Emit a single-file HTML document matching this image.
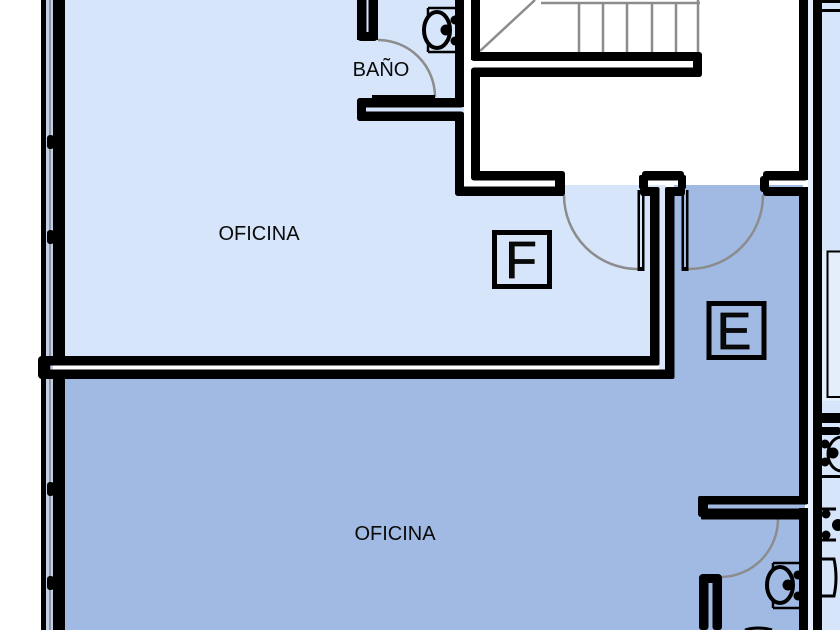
<!DOCTYPE html>
<html><head><meta charset="utf-8"><style>
html,body{margin:0;padding:0;background:#fff}
svg{display:block}
text{font-family:"Liberation Sans",sans-serif;fill:#0a0a0a}
</style></head><body>
<svg width="840" height="630" viewBox="0 0 840 630" xmlns="http://www.w3.org/2000/svg">
<rect width="840" height="630" fill="#fff"/>
<!-- fills -->
<path d="M60 0H358V40H378V0H464V121H455V195H640V185H659V365H60Z" fill="#d6e5fa"/>
<rect x="360" y="0" width="100" height="110" fill="#d6e5fa"/>
<rect x="563" y="185" width="90" height="175" fill="#d6e5fa"/>
<path d="M674 185H803V630H46V370H674Z" fill="#a0bae3"/>
<rect x="60" y="379" width="745" height="251" fill="#a0bae3"/>
<rect x="659" y="185" width="7" height="185" fill="#dbe7f8"/>
<rect x="46" y="0" width="7" height="630" fill="#c3cfe2"/>
<rect x="49" y="0" width="2" height="630" fill="#8f97a5"/>
<rect x="808" y="0" width="5" height="630" fill="#e6effb"/>
<rect x="822" y="0" width="18" height="630" fill="#d6e5fa"/>
<rect x="822" y="251" width="18" height="150" fill="#e4eefb"/>
<!-- door arcs and stairs -->
<g fill="none" stroke="#8c8c8c" stroke-width="2.5">
<path d="M378 40A57 57 0 0 1 435 97"/>
<path d="M564 195A74 74 0 0 0 638 269"/>
<path d="M763 195A74 74 0 0 1 688 269"/>
<path d="M778 519A58 58 0 0 1 722 577"/>
<path d="M480 51L535 0M541 3H700M579 3V52M603 3V52M627 3V52M652 3V52M676 3V52M698 0V52"/>
</g>
<!-- walls -->
<g fill="#000">
<rect x="41" y="0" width="5" height="630"/>
<rect x="53" y="0" width="12" height="357"/>
<rect x="53" y="378" width="12" height="252"/>
<rect x="47" y="135" width="7" height="14" rx="3"/>
<rect x="47" y="230" width="7" height="14" rx="3"/>
<rect x="47" y="482" width="7" height="14" rx="3"/>
<rect x="47" y="576" width="7" height="14" rx="3"/>
<rect x="38" y="356" width="12" height="23" rx="4"/>
<rect x="40" y="356" width="619" height="9.500" rx="2"/>
<rect x="40" y="369.500" width="634" height="9.500" rx="2"/>
<!-- bath -->
<rect x="357" y="0" width="9.500" height="40"/>
<rect x="368.500" y="0" width="9.500" height="40"/>
<rect x="357" y="32" width="21" height="9" rx="4"/>
<rect x="455" y="0" width="9" height="107"/>
<rect x="357" y="98" width="107" height="9.500" rx="3"/>
<rect x="357" y="111.500" width="107" height="9.500" rx="3"/>
<rect x="357" y="98" width="9" height="23" rx="3"/>
<rect x="455" y="112" width="9" height="83" rx="2"/>
<rect x="372" y="95" width="63" height="3"/>
<!-- stair room -->
<rect x="471" y="0" width="9" height="60"/>
<rect x="471" y="52" width="231" height="9" rx="3"/>
<rect x="471" y="67.500" width="231" height="9.500" rx="3"/>
<rect x="693" y="52" width="9" height="25" rx="3"/>
<rect x="471" y="68" width="9" height="112" rx="3"/>
<rect x="471" y="171" width="94" height="9.500" rx="3"/>
<rect x="455" y="186.500" width="110" height="9.500" rx="3"/>
<rect x="555" y="171" width="10" height="25" rx="3"/>
<!-- pillar -->
<rect x="642" y="171" width="42" height="9.500" rx="3"/>
<rect x="639" y="175" width="9" height="14" rx="2"/>
<rect x="678" y="175" width="8" height="14" rx="2"/>
<rect x="640" y="187" width="19" height="9" rx="3"/>
<rect x="665" y="187" width="20" height="9" rx="3"/>
<rect x="650" y="187" width="9.500" height="178.500" rx="2"/>
<rect x="665" y="187" width="9.500" height="192" rx="2"/>
<!-- right -->
<rect x="763" y="171" width="45" height="9.500" rx="3"/>
<rect x="760" y="176" width="9" height="16" rx="3"/>
<rect x="763" y="187" width="45" height="9" rx="3"/>
<rect x="799" y="0" width="9" height="180"/>
<rect x="799" y="187" width="9" height="317"/>
<rect x="813" y="0" width="9" height="630"/>
<rect x="698" y="496" width="110" height="8.500" rx="2"/>
<rect x="701" y="508.500" width="107" height="11" rx="1"/>
<rect x="698" y="496" width="10" height="21" rx="3"/>
<rect x="799" y="508" width="9" height="122"/>
<rect x="699" y="575" width="9.500" height="55" rx="3"/>
<rect x="712.500" y="575" width="9.500" height="55" rx="3"/>
<rect x="699" y="574" width="23" height="9" rx="4"/>
<!-- far right -->
<rect x="813" y="413" width="27" height="10"/>
<rect x="813" y="427" width="27" height="8" rx="2"/>
<rect x="822" y="0" width="18" height="3"/>
<rect x="822" y="9" width="18" height="3"/>
<rect x="822" y="475" width="18" height="3"/>
<rect x="637.500" y="190" width="2.500" height="81"/>
<rect x="642" y="190" width="2.500" height="81"/>
<rect x="637.500" y="267" width="7" height="4"/>
<rect x="681.500" y="190" width="2.500" height="81"/>
<rect x="686" y="190" width="2.500" height="81"/>
<rect x="681.500" y="267" width="7" height="4"/>
</g>
<!-- thin outlines on right -->
<path d="M840 251.500H827.500V397H840" fill="none" stroke="#000" stroke-width="2"/>
<!-- sinks -->
<g fill="none" stroke="#000">
<path d="M428 8H455M428 52H455M428 8V16M428 44V52" stroke-width="2.500"/>
<ellipse cx="437" cy="30" rx="13" ry="18" stroke-width="4"/>
<path d="M773 563H799M773 608H799M773 563V570M773 600V608" stroke-width="2.500"/>
<ellipse cx="780" cy="585" rx="13" ry="18" stroke-width="4"/>
<ellipse cx="842" cy="454" rx="14" ry="17" stroke-width="3"/>
<path d="M822 509H836M822 540H836" stroke-width="3"/>
<path d="M822 559H834Q838 578 834 596H822" stroke-width="3"/>
<path d="M745 630Q758 626 772 630" stroke-width="3"/>
</g>
<g fill="#000">
<circle cx="446" cy="30" r="5.500"/><circle cx="455" cy="20" r="4.500"/><circle cx="455" cy="41" r="4.500"/>
<circle cx="788" cy="585" r="5.500"/><circle cx="798" cy="575" r="4.500"/><circle cx="798" cy="596" r="4.500"/>
<circle cx="833" cy="453" r="5.500"/><circle cx="825" cy="444" r="4.500"/><circle cx="825" cy="462" r="4.500"/>
<circle cx="838" cy="525" r="6"/><circle cx="826" cy="514" r="4.500"/><circle cx="826" cy="535" r="4.500"/>
</g>
<!-- labels -->
<rect x="494.500" y="232.500" width="55" height="54" fill="none" stroke="#000" stroke-width="5"/>
<rect x="709" y="303.500" width="55" height="54" fill="none" stroke="#000" stroke-width="5"/>
<text x="521" y="278" font-size="52" text-anchor="middle" stroke="#000" stroke-width="0.8">F</text>
<text x="734" y="349" font-size="52" text-anchor="middle" stroke="#000" stroke-width="0.8">E</text>
<text x="259" y="240" font-size="20" text-anchor="middle">OFICINA</text>
<text x="395" y="540" font-size="20" text-anchor="middle">OFICINA</text>
<text x="381" y="76" font-size="20" text-anchor="middle">BAÑO</text>
</svg>
</body></html>
